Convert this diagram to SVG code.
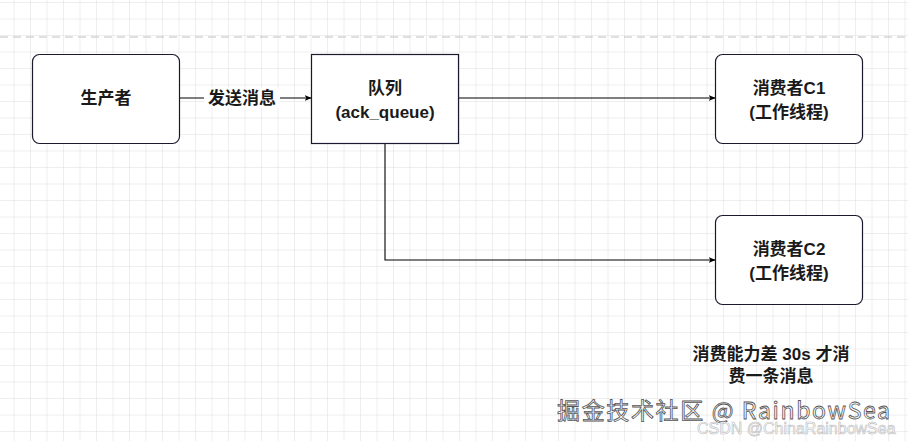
<svg xmlns="http://www.w3.org/2000/svg" width="908" height="441" viewBox="0 0 908 441">
<defs>
<pattern id="grid" width="16.5" height="16.5" patternUnits="userSpaceOnUse" x="-2" y="3">
<path d="M16.5 0V16.5H0" fill="none" stroke="#dedede" stroke-width="1"/>
</pattern>
<marker id="arr" viewBox="0 0 10 10" refX="9" refY="5" markerWidth="7" markerHeight="7" orient="auto" markerUnits="userSpaceOnUse"><path d="M0 1L10 5L0 9L2.5 5Z" fill="#000"/></marker>
</defs>
<style>
.box{fill:#fff;stroke:#1a1a2e;stroke-width:1.2}
.t{font-family:"Liberation Sans","Noto Sans CJK SC",sans-serif;font-size:17px;font-weight:bold;fill:#1a1a1a;text-anchor:middle}
.c{fill:none;stroke:#000;stroke-width:1.1;marker-end:url(#arr)}
</style>
<rect width="908" height="441" fill="#fff"/>
<rect width="908" height="441" fill="url(#grid)"/>
<line x1="0" y1="37" x2="908" y2="37" stroke="#c0c0c0" stroke-dasharray="8 5"/>
<g id="connectors">
<path class="c" d="M180 98H311"/>
<path class="c" d="M459 98H715"/>
<path class="c" d="M385 143V260H715"/>
</g>
<g id="label"><rect x="204" y="88" width="76" height="20" fill="#fff"/><text class="t" x="242" y="104">发送消息</text></g>
<g id="producer"><rect class="box" x="32.5" y="54.5" width="147" height="89" rx="7"/><text class="t" x="106" y="104">生产者</text></g>
<g id="queue"><rect class="box" x="311.5" y="54.5" width="147" height="89"/><text class="t" x="385" y="94">队列</text><text class="t" x="385" y="118">(ack_queue)</text></g>
<g id="c1"><rect class="box" x="715.5" y="54.5" width="147" height="89" rx="7"/><text class="t" x="789" y="94">消费者C1</text><text class="t" x="789" y="118">(工作线程)</text></g>
<g id="c2"><rect class="box" x="715.5" y="215.5" width="147" height="89" rx="7"/><text class="t" x="789" y="255">消费者C2</text><text class="t" x="789" y="279">(工作线程)</text></g>
<g id="note"><text class="t" x="771" y="360">消费能力差 30s 才消</text><text class="t" x="771" y="382">费一条消息</text></g>
<text x="557" y="419" font-family="'Noto Sans CJK SC',sans-serif" font-size="23" fill="#fff" stroke="#555" stroke-width="0.8" textLength="333">掘金技术社区 @ RainbowSea</text>
<text x="697" y="434" font-family="'Liberation Sans',sans-serif" font-size="16" fill="#fff" stroke="#bbb" stroke-width="0.6">CSDN @ChinaRainbowSea</text>
</svg>
